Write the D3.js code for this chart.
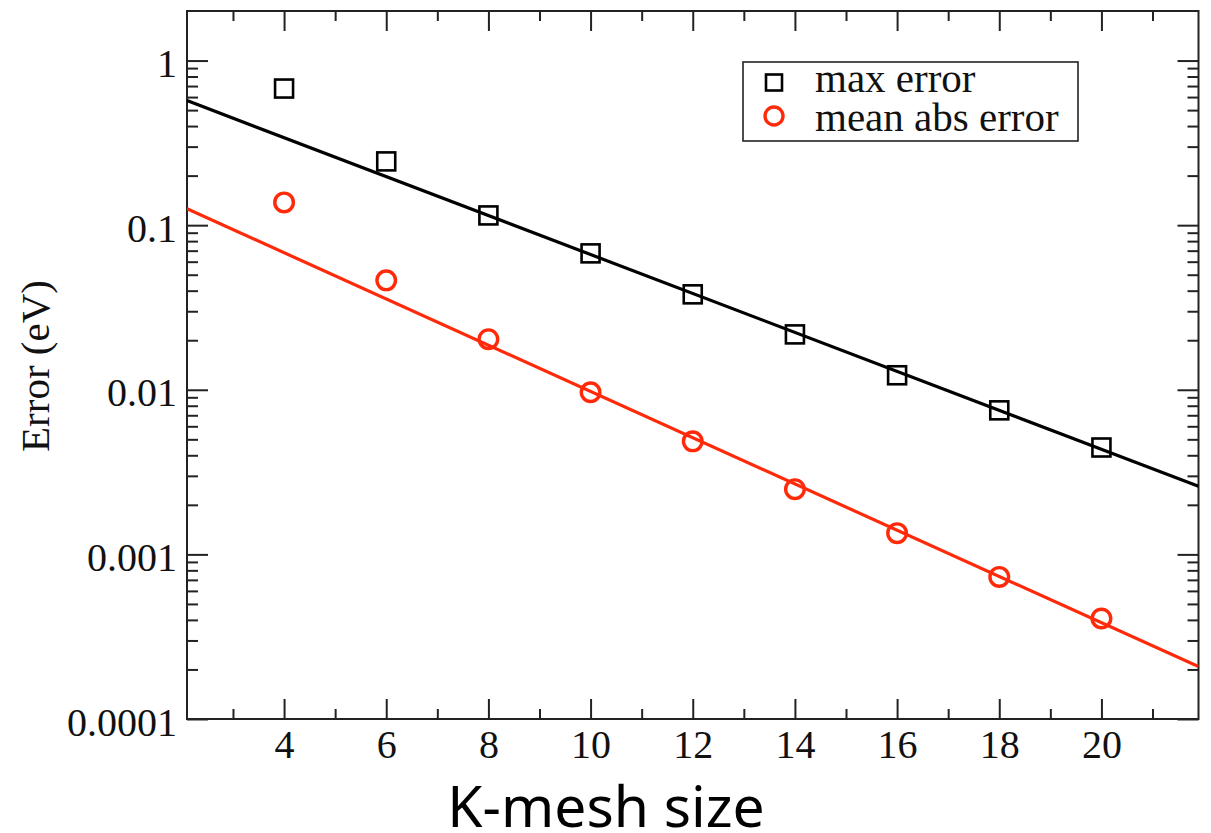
<!DOCTYPE html>
<html>
<head>
<meta charset="utf-8">
<script src="https://cdn.jsdelivr.net/npm/d3@7/dist/d3.min.js"></script>
<style>
  body { margin: 0; background: #fff; }
  svg { display: block; }
  .tick text { font-family: "Liberation Serif", "Times New Roman", serif; font-size: 40px; fill: #111; }
</style>
</head>
<body>
<div id="chart"></div>
<script>
// k-mesh sizes
const kmesh = [4, 6, 8, 10, 12, 14, 16, 18, 20]
// errors in eV
const maxError = [0.676, 0.244, 0.1146, 0.0674, 0.038, 0.0217, 0.01225, 0.0075, 0.00446]
const meanAbsError = [0.1375, 0.0462, 0.0203, 0.00966, 0.00486, 0.00249, 0.001346, 0.00073, 0.000408]
// fitted lines, given at the two ends of the x range
const fitX = [2.1, 21.9]
const maxFit = [0.571, 0.00259]
const meanFit = [0.1258, 0.000208]
// ticks
const xMajor = [4, 6, 8, 10, 12, 14, 16, 18, 20]
const xMinor = [3, 5, 7, 9, 11, 13, 15, 17, 19, 21]
const yMajor = [0.0001, 0.001, 0.01, 0.1, 1]
const yLabels = ["0.0001", "0.001", "0.01", "0.1", "1"]

const width = 1211, height = 833
const m = {left: 187, right: 1198.5, top: 11, bottom: 719}
const red = "#ff2a0a"

const yMinor = []
yMajor.slice(0, -1).forEach(d => { for (let i = 2; i <= 9; i++) yMinor.push(d * i) })

const svg = d3.select("#chart").append("svg")
    .attr("width", width)
    .attr("height", height)

const x = d3.scaleLinear().domain([2.1, 21.9]).range([m.left, m.right])
const y = d3.scaleLog().domain([0.0001, 2]).range([m.bottom, m.top])

function styleAxis(g) {
    g.select(".domain").remove()
    g.selectAll(".tick line").attr("stroke", "#222").attr("stroke-width", 2)
}

// bottom axis
svg.append("g")
    .attr("transform", `translate(0,${m.bottom})`)
    .call(d3.axisBottom(x).tickValues(xMajor).tickSize(-20).tickPadding(11).tickFormat(d3.format("d")))
    .call(styleAxis)
svg.append("g")
    .attr("transform", `translate(0,${m.bottom})`)
    .call(d3.axisBottom(x).tickValues(xMinor).tickSize(-10).tickFormat(""))
    .call(styleAxis)
// top axis, mirrored
svg.append("g")
    .attr("transform", `translate(0,${m.top})`)
    .call(d3.axisTop(x).tickValues(xMajor).tickSize(-20).tickFormat(""))
    .call(styleAxis)
svg.append("g")
    .attr("transform", `translate(0,${m.top})`)
    .call(d3.axisTop(x).tickValues(xMinor).tickSize(-10).tickFormat(""))
    .call(styleAxis)

// left axis
svg.append("g")
    .attr("transform", `translate(${m.left},0)`)
    .call(d3.axisLeft(y).tickValues(yMajor).tickSize(-21).tickPadding(10)
        .tickFormat((d, i) => yLabels[i]))
    .call(styleAxis)
    .call(g => g.selectAll(".tick text").attr("dy", "0.4em"))
svg.append("g")
    .attr("transform", `translate(${m.left},0)`)
    .call(d3.axisLeft(y).tickValues(yMinor).tickSize(-11).tickFormat(""))
    .call(styleAxis)
// right axis, mirrored
svg.append("g")
    .attr("transform", `translate(${m.right},0)`)
    .call(d3.axisRight(y).tickValues(yMajor).tickSize(-21).tickFormat(""))
    .call(styleAxis)
svg.append("g")
    .attr("transform", `translate(${m.right},0)`)
    .call(d3.axisRight(y).tickValues(yMinor).tickSize(-11).tickFormat(""))
    .call(styleAxis)

// frame
svg.append("rect")
    .attr("x", m.left)
    .attr("y", m.top)
    .attr("width", m.right - m.left)
    .attr("height", m.bottom - m.top)
    .attr("fill", "none")
    .attr("stroke", "#222")
    .attr("stroke-width", 2)

svg.append("clipPath").attr("id", "clip")
    .append("rect")
    .attr("x", m.left).attr("y", m.top)
    .attr("width", m.right - m.left).attr("height", m.bottom - m.top)

const plot = svg.append("g").attr("clip-path", "url(#clip)")

const line = d3.line()
    .x(d => x(d[0]))
    .y(d => y(d[1]))

plot.append("path")
    .datum(fitX.map((d, i) => [d, maxFit[i]]))
    .attr("d", line)
    .attr("fill", "none")
    .attr("stroke", "#000")
    .attr("stroke-width", 3.2)

plot.append("path")
    .datum(fitX.map((d, i) => [d, meanFit[i]]))
    .attr("d", line)
    .attr("fill", "none")
    .attr("stroke", red)
    .attr("stroke-width", 3.2)

const sq = 18

plot.selectAll(".max")
    .data(kmesh.map((d, i) => [d, maxError[i]]))
    .join("rect")
    .attr("class", "max")
    .attr("x", d => x(d[0]) - sq / 2)
    .attr("y", d => y(d[1]) - sq / 2)
    .attr("width", sq)
    .attr("height", sq)
    .attr("fill", "none")
    .attr("stroke", "#000")
    .attr("stroke-width", 2.6)

plot.selectAll(".mean")
    .data(kmesh.map((d, i) => [d, meanAbsError[i]]))
    .join("circle")
    .attr("class", "mean")
    .attr("cx", d => x(d[0]))
    .attr("cy", d => y(d[1]))
    .attr("r", 9.3)
    .attr("fill", "none")
    .attr("stroke", red)
    .attr("stroke-width", 3.4)

// legend
const legend = svg.append("g")
legend.append("rect")
    .attr("x", 743).attr("y", 62)
    .attr("width", 335).attr("height", 79)
    .attr("fill", "#fff")
    .attr("stroke", "#222")
    .attr("stroke-width", 1.6)
legend.append("rect")
    .attr("x", 774 - 8).attr("y", 82.5 - 8)
    .attr("width", 16).attr("height", 16)
    .attr("fill", "none")
    .attr("stroke", "#000")
    .attr("stroke-width", 2.6)
legend.append("circle")
    .attr("cx", 774).attr("cy", 116)
    .attr("r", 9)
    .attr("fill", "none")
    .attr("stroke", red)
    .attr("stroke-width", 3.4)
legend.selectAll("text")
    .data(["max error", "mean abs error"])
    .join("text")
    .attr("x", 815)
    .attr("y", (d, i) => 92 + i * 39)
    .attr("font-family", "Liberation Serif, Times New Roman, serif")
    .attr("font-size", 41)
    .attr("fill", "#111")
    .text(d => d)

// axis titles
svg.append("text")
    .attr("transform", "translate(49,366) rotate(-90)")
    .attr("text-anchor", "middle")
    .attr("font-family", "Liberation Serif, Times New Roman, serif")
    .attr("font-size", 41)
    .attr("fill", "#111")
    .text("Error (eV)")

svg.append("text")
    .attr("x", 606)
    .attr("y", 827)
    .attr("text-anchor", "middle")
    .attr("font-family", "Noto Sans, sans-serif")
    .attr("font-size", 57)
    .attr("fill", "#000")
    .text("K-mesh size")
</script>
</body>
</html>
